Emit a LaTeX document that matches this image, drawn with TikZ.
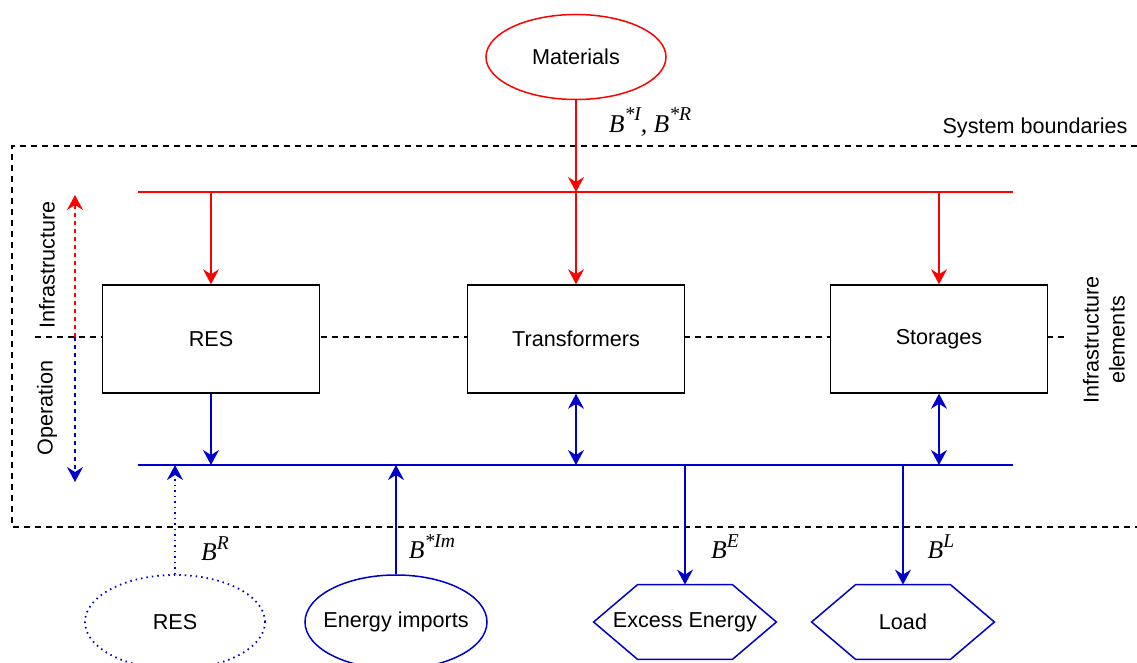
\documentclass[tikz,border=0pt]{standalone}
\usepackage{fontspec}
\setmainfont{Liberation Sans}
\newfontfamily\labelserif{Liberation Serif}
\usetikzlibrary{arrows.meta,shapes.geometric}
\definecolor{flowred}{RGB}{255,0,0}
\definecolor{flowblue}{RGB}{0,0,204}
\tikzset{
  every node/.style={font=\fontsize{10.8}{13}\selectfont},
  tip/.style={-{Stealth[length=7.5pt,width=8pt,inset=2.5pt]}},
  dtip/.style={{Stealth[length=7.5pt,width=8pt,inset=2.5pt]}-{Stealth[length=7.5pt,width=8pt,inset=2.5pt]}},
  redline/.style={draw=flowred,line width=0.75pt},
  blueline/.style={draw=flowblue,line width=0.75pt},
  bnd/.style={draw=black,line width=0.7pt,dash pattern=on 3pt off 2.5pt},
  unitbox/.style={draw=black,fill=white,line width=0.75pt,minimum width=108.5pt,minimum height=54pt},
  srcell/.style={ellipse,line width=0.75pt,inner sep=0pt,minimum width=90pt,minimum height=42.5pt},
  hexhold/.style={minimum width=91pt,minimum height=37pt,inner sep=0pt},
  flowlabel/.style={font=\fontsize{12.8}{15}\labelserif\itshape},
}
% ellipse text that does not widen its ellipse
\newcommand{\ctext}[1]{\makebox[0pt]{#1}}
% flow symbol B with a superscript
\newcommand{\flowsym}[1]{B\raisebox{0.95ex}{\fontsize{9.8}{10}\selectfont #1}}
% hexagonal frame around a named node
\newcommand{\hexframe}[1]{%
  \draw[blueline] (#1.west) -- ([xshift=22pt]#1.north west) -- ([xshift=-22pt]#1.north east)
    -- (#1.east) -- ([xshift=-22pt]#1.south east) -- ([xshift=22pt]#1.south west) -- cycle;}
\begin{document}
\begin{tikzpicture}[x=0.5pt,y=-0.5pt]
\useasboundingbox (0,0) rectangle (1137,663);

% system boundary
\draw[bnd] (1137,146) -- (12,146) -- (12,527) -- (1137,527);
\node (sysb) at (1035,128) {System boundaries};

% infrastructure / operation split
\draw[bnd] (35,337) -- (1067,337);
\node[rotate=90] (infra) at (47,265) {Infrastructure};
\node[rotate=90] (oper) at (47,408) {Operation};
\node[rotate=90,align=center] (elems) at (1104,340) {Infrastructure\\elements};

\coordinate (split) at (75,337);
\coordinate (uptop) at (75,195);
\coordinate (downbot) at (75,482);
\draw[draw=flowred,line width=0.75pt,dash pattern=on 2pt off 2pt,tip] (split) -- (uptop);
\draw[draw=flowblue,line width=0.75pt,dash pattern=on 2pt off 2pt,tip] (split) -- (downbot);

% materials
\node[srcell,draw=flowred] (mat) at (576,57) {\ctext{Materials}};
\node[flowlabel] (blmat) at (650,122) {\flowsym{*I}, \flowsym{*R}};

% infrastructure bus
\coordinate (rl) at (138,192);
\coordinate (rr) at (1013,192);
\coordinate (rt1) at (211,192);
\coordinate (rt2) at (576,192);
\coordinate (rt3) at (939,192);
\draw[redline] (rl) -- (rr);
\draw[redline,tip] (mat.south) -- (rt2);

% infrastructure elements
\node[unitbox] (res) at (211,339) {RES};
\node[unitbox] (trans) at (576,339) {Transformers};
\node[unitbox] (stor) at (939,339) {Storages};
\draw[redline,tip] (rt1) -- (res.north);
\draw[redline,tip] (rt2) -- (trans.north);
\draw[redline,tip] (rt3) -- (stor.north);

% operation bus
\coordinate (bl) at (138,465);
\coordinate (br) at (1013,465);
\coordinate (bt1) at (211,465);
\coordinate (bt2) at (576,465);
\coordinate (bt3) at (939,465);
\coordinate (bt4) at (175,465);
\coordinate (bt5) at (396,465);
\coordinate (bt6) at (685,465);
\coordinate (bt7) at (903,465);
\draw[blueline] (bl) -- (br);
\draw[blueline,tip] (res.south) -- (bt1);
\draw[blueline,dtip] (trans.south) -- (bt2);
\draw[blueline,dtip] (stor.south) -- (bt3);

% external sources and sinks
\node[srcell,draw=flowblue,dotted,line width=0.9pt,minimum width=90pt,minimum height=47pt] (ressrc) at (175,622) {\ctext{RES}};
\node[srcell,draw=flowblue,minimum width=91pt,minimum height=47pt] (imp) at (396,622) {\ctext{Energy imports}};
\node[hexhold] (exc) at (685,622) {Excess Energy};
\hexframe{exc}
\node[hexhold] (load) at (903,622) {Load};
\hexframe{load}

\draw[blueline,dotted,line width=0.9pt,tip] (ressrc.north) -- (bt4);
\draw[blueline,tip] (imp.north) -- (bt5);
\draw[blueline,tip] (bt6) -- (exc.north);
\draw[blueline,tip] (bt7) -- (load.north);

\node[flowlabel] (lr) at (215,549) {\flowsym{R}};
\node[flowlabel] (lim) at (432,547) {\flowsym{*Im}};
\node[flowlabel] (le) at (725,547) {\flowsym{E}};
\node[flowlabel] (ll) at (941,547) {\flowsym{L}};
\end{tikzpicture}
\end{document}
